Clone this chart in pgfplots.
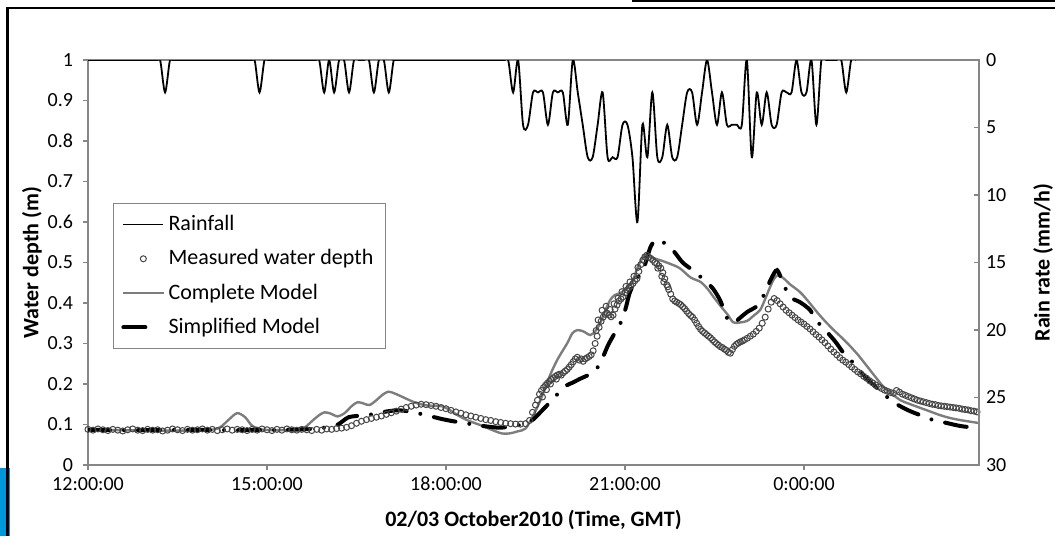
\documentclass[border=0pt]{standalone}
\usepackage{fontspec}
\setmainfont{Carlito}
\usepackage{pgfplots}
\pgfplotsset{compat=1.18}

\definecolor{axgray}{RGB}{134,134,134}
\definecolor{modelgray}{RGB}{125,125,125}
\definecolor{ptgray}{RGB}{70,70,70}
\definecolor{slideblue}{RGB}{0,150,218}

\pgfplotsset{
  longleg/.style={legend image code/.code={\draw[mark repeat=2,mark phase=2,##1] plot coordinates {(0pt,0pt) (10pt,0pt) (20pt,0pt)};}},
  shortleg/.style={legend image code/.code={\draw[##1] (0pt,0pt) -- (11pt,0pt);}},
  chartbox/.style={
    scale only axis, width=445.5pt, height=202.5pt,
    at={(44pt,136.75pt)}, anchor=west,
    xmin=0, xmax=896,
    axis line style={axgray, line width=0.6pt},
    tick style={axgray, line width=0.6pt},
    major tick length=2.5pt,
    ticklabel style={font=\fontsize{10}{12}\selectfont},
    /pgf/number format/assume math mode=true,
    label style={font=\bfseries\fontsize{11}{13}\selectfont},
  },
}

\begin{document}
\begin{tikzpicture}
\useasboundingbox (0pt,0pt) rectangle (527.5pt,268pt);
% slide frame around the chart
\fill[slideblue] (0pt,0pt) rectangle (5pt,34pt);
\draw[line width=1.4pt] (3.65pt,0pt) -- (3.65pt,264pt) -- (527.5pt,264pt);
\draw[line width=1.4pt] (316pt,267.5pt) -- (527.5pt,267.5pt);

\begin{axis}[chartbox,
    ymin=0, ymax=1,
    xtick={0,180,360,540,720},
    xticklabels={12:00:00,15:00:00,18:00:00,21:00:00,0:00:00},
    ytick={0,0.1,0.2,0.3,0.4,0.5,0.6,0.7,0.8,0.9,1},
    yticklabel style={xshift=-1.5pt},
    tick align=outside, xtick pos=bottom, ytick pos=left,
    xlabel={02/03 October2010 (Time, GMT)},
    ylabel={Water depth (m)},
    xlabel style={at={(axis description cs:0.5,-0.136)}, anchor=center},
    ylabel style={at={(axis description cs:-0.063,0.5)}, anchor=center},
    longleg,
    legend style={at={(axis description cs:0.028,0.647)}, anchor=north west,
      draw=axgray, font=\fontsize{11}{13}\selectfont, row sep=4pt,
      inner xsep=4pt, inner ysep=4pt, cells={anchor=west}},
]
\addlegendimage{black, line width=0.9pt}
\addlegendentry{Rainfall}

% measured water depth
\addplot[only marks, mark=o, mark size=1.5pt, mark options={draw=ptgray, line width=0.5pt}] coordinates {
(0,0.088)(5,0.086)(10,0.089)(15,0.087)(20,0.085)(25,0.088)(30,0.086)(35,0.084)(40,0.087)(45,0.089)
(50,0.086)(55,0.085)(60,0.088)(65,0.086)(70,0.087)(75,0.084)(80,0.086)(85,0.089)(90,0.087)(95,0.085)
(100,0.088)(105,0.086)(110,0.087)(115,0.089)(120,0.086)(125,0.088)(130,0.085)(135,0.087)(140,0.089)(145,0.086)
(150,0.088)(155,0.087)(160,0.085)(165,0.088)(170,0.086)(175,0.089)(180,0.087)(185,0.085)(190,0.088)(195,0.086)
(200,0.089)(205,0.087)(210,0.086)(215,0.088)(220,0.087)(225,0.085)(230,0.088)(235,0.086)(240,0.089)(245,0.088)
(250,0.090)(255,0.091)(260,0.093)(265,0.097)(270,0.103)(275,0.108)(280,0.112)(285,0.115)(290,0.118)(295,0.121)
(300,0.125)(305,0.129)(310,0.133)(315,0.138)(320,0.142)(325,0.145)(330,0.148)(335,0.150)(340,0.149)(345,0.147)
(350,0.145)(355,0.142)(360,0.139)(365,0.135)(370,0.131)(375,0.128)(380,0.124)(385,0.121)(390,0.118)(395,0.115)
(400,0.112)(405,0.110)(410,0.107)(415,0.105)(420,0.103)(425,0.102)(430,0.101)(435,0.101)(440,0.102)(444,0.110)
(447,0.130)(450,0.148)(452,0.160)(454,0.175)(456,0.184)(458,0.191)(460,0.197)(462,0.202)(464,0.207)(466,0.211)
(468,0.215)(470,0.219)(472,0.222)(474,0.224)(476,0.222)(478,0.228)(480,0.232)(482,0.236)(484,0.242)(486,0.248)
(488,0.255)(490,0.262)(492,0.266)(494,0.259)(496,0.262)(498,0.256)(500,0.262)(502,0.265)(504,0.268)(506,0.272)
(508,0.282)(510,0.300)(512,0.318)(514,0.340)(516,0.355)(518,0.365)(520,0.372)(522,0.375)(524,0.370)(526,0.366)
(528,0.370)(530,0.385)(532,0.395)(534,0.405)(536,0.410)(538,0.415)(540,0.425)(542,0.432)(544,0.438)(546,0.442)
(548,0.448)(550,0.455)(552,0.460)(554,0.478)(556,0.495)(558,0.506)(560,0.514)(562,0.518)(564,0.513)(566,0.510)
(568,0.506)(570,0.500)(572,0.497)(574,0.492)(576,0.486)(578,0.475)(580,0.460)(582,0.445)(584,0.433)(586,0.422)
(588,0.410)(590,0.405)(592,0.402)(594,0.399)(596,0.396)(598,0.391)(600,0.386)(602,0.380)(604,0.374)(606,0.369)
(608,0.365)(610,0.358)(612,0.350)(614,0.342)(616,0.335)(618,0.330)(620,0.326)(622,0.322)(624,0.318)(626,0.314)
(628,0.309)(630,0.304)(632,0.300)(634,0.296)(636,0.292)(638,0.290)(640,0.286)(642,0.283)(644,0.278)(646,0.276)
(648,0.285)(650,0.293)(652,0.298)(654,0.301)(656,0.304)(658,0.306)(660,0.309)(663,0.313)(666,0.318)(669,0.323)
(672,0.330)(675,0.338)(678,0.350)(681,0.365)(684,0.385)(687,0.402)(690,0.411)(693,0.406)(696,0.398)(699,0.390)
(702,0.382)(705,0.376)(708,0.370)(711,0.364)(714,0.358)(717,0.353)(720,0.348)(723,0.342)(726,0.336)(729,0.329)
(732,0.322)(735,0.316)(738,0.309)(741,0.302)(744,0.294)(747,0.286)(750,0.279)(753,0.272)(756,0.265)(759,0.259)
(762,0.254)(765,0.248)(768,0.242)(771,0.236)(774,0.230)(777,0.225)(780,0.219)(783,0.214)(786,0.208)(789,0.203)
(792,0.198)(795,0.193)(798,0.189)(801,0.185)(804,0.182)(807,0.179)(810,0.177)(813,0.184)(816,0.180)(819,0.175)
(822,0.172)(825,0.169)(828,0.166)(831,0.163)(834,0.160)(837,0.158)(840,0.156)(843,0.154)(846,0.152)(849,0.150)
(852,0.149)(855,0.147)(858,0.146)(861,0.145)(864,0.144)(867,0.143)(870,0.142)(873,0.141)(876,0.140)(879,0.138)
(882,0.137)(885,0.136)(888,0.134)(891,0.133)(894,0.131)
(511,0.332)(513,0.358)(517,0.382)(521,0.392)(525,0.384)(529,0.398)(533,0.412)(537,0.428)(541,0.441)(545,0.452)
(549,0.466)(553,0.488)(457,0.168)(461,0.186)(465,0.200)(471,0.212)(573,0.486)(577,0.466)(579,0.452)(583,0.440)
};
\addlegendentry{Measured water depth}

% complete model
\addplot[modelgray, line width=1.2pt, smooth, tension=0.5] coordinates {
(0,0.087)(30,0.086)(60,0.085)(90,0.085)(111,0.085)(127,0.088)(134,0.095)(142,0.113)(150,0.128)(158,0.118)
(165,0.097)(174,0.088)(187,0.086)(209,0.087)(218,0.093)(226,0.110)(233,0.124)(238,0.130)(244,0.127)(251,0.120)
(258,0.128)(265,0.145)(271,0.155)(277,0.152)(283,0.148)(290,0.160)(296,0.173)(302,0.181)(309,0.176)(318,0.166)
(327,0.156)(335,0.150)(341,0.147)(349,0.146)(356,0.145)(363,0.137)(371,0.124)(382,0.110)(394,0.099)(405,0.088)
(416,0.078)(424,0.078)(432,0.083)(440,0.090)(447,0.119)(455,0.160)(464,0.218)(472,0.260)(482,0.301)(487,0.325)
(492,0.333)(498,0.330)(505,0.321)(510,0.330)(515,0.350)(520,0.380)(525,0.407)(530,0.420)(535,0.424)(541,0.435)
(548,0.457)(553,0.490)(558,0.512)(562,0.518)(568,0.511)(575,0.506)(585,0.497)(595,0.486)(606,0.463)(616,0.452)
(623,0.435)(629,0.415)(636,0.393)(643,0.372)(649,0.352)(656,0.352)(663,0.356)(670,0.370)(676,0.383)(681,0.410)
(686,0.440)(690,0.460)(694,0.469)(700,0.460)(706,0.446)(716,0.427)(724,0.405)(734,0.375)(742,0.353)(750,0.333)
(759,0.312)(767,0.292)(775,0.270)(784,0.242)(792,0.217)(800,0.193)(809,0.175)(817,0.160)(827,0.150)(837,0.141)
(847,0.132)(857,0.123)(867,0.116)(877,0.111)(887,0.107)(895,0.104)
};
\addlegendentry{Complete Model}

% simplified model
\addplot[black, line width=2pt, line cap=round, dash pattern=on 11pt off 7pt on 0pt off 7pt,
  smooth, tension=0.5, shortleg] coordinates {
(0,0.087)(50,0.086)(100,0.087)(150,0.086)(200,0.087)(225,0.089)(240,0.093)(250,0.098)(256,0.108)(262,0.118)
(270,0.121)(280,0.123)(290,0.127)(300,0.132)(310,0.135)(318,0.134)(325,0.131)(335,0.126)(345,0.120)(355,0.114)
(365,0.109)(375,0.105)(385,0.101)(395,0.097)(405,0.094)(414,0.092)(422,0.094)(430,0.097)(437,0.100)(443,0.106)
(448,0.113)(456,0.133)(465,0.156)(474,0.180)(480,0.195)(487,0.203)(495,0.213)(503,0.222)(510,0.232)(517,0.262)
(523,0.296)(530,0.327)(537,0.358)(541,0.390)(545,0.427)(551,0.455)(558,0.481)(562,0.510)(566,0.540)(571,0.556)
(577,0.552)(583,0.542)(589,0.528)(598,0.500)(608,0.481)(618,0.460)(628,0.437)(636,0.405)(641,0.370)(646,0.352)
(651,0.354)(656,0.364)(663,0.378)(674,0.395)(681,0.427)(687,0.460)(693,0.481)(699,0.449)(706,0.415)(716,0.402)
(726,0.383)(732,0.358)(744,0.326)(752,0.303)(760,0.276)(770,0.251)(780,0.222)(789,0.200)(799,0.178)(810,0.155)
(824,0.136)(837,0.123)(850,0.111)(863,0.104)(878,0.096)(896,0.091)
};
\addlegendentry{Simplified Model}
\end{axis}

\begin{axis}[chartbox,
    ymin=0, ymax=30, y dir=reverse,
    axis y line*=right, hide x axis,
    ytick={0,5,10,15,20,25,30}, tick align=inside,
    ylabel={Rain rate (mm/h)},
    ylabel style={at={(axis description cs:1.072,0.5)}, anchor=center},
]
\addplot[black, line width=0.9pt, smooth, tension=0.5] coordinates {
(0,0)(67.5,0)(72.5,0)(77.5,2.4)(82.5,0)(87.5,0)
(162.5,0)(167.5,0)(172.5,2.4)(177.5,0)(182.5,0)
(227.5,0)(232.5,0)(237.5,2.4)(242.5,0)(247.5,2.4)(252.5,0)(257.5,0)(262.5,2.4)(267.5,0)(272.5,0)
(277.5,0)(282.5,0)(287.5,2.4)(292.5,0)(297.5,0)(302.5,2.4)(307.5,0)(312.5,0)
(412.5,0)(417.5,0)(422.5,0)(427.5,2.4)(432.5,0)(437.5,4.8)(442.5,4.8)(447.5,2.4)(452.5,2.4)(457.5,2.4)
(462.5,4.8)(467.5,2.4)(472.5,2.4)(477.5,2.4)(482.5,4.8)(487.5,0)(492.5,2.4)(497.5,4.8)(502.5,7.2)(507.5,7.2)
(512.5,4.8)(517.5,2.4)(522.5,7.2)(527.5,7.2)(532.5,7.2)(537.5,4.8)(542.5,4.8)(547.5,7.2)(552.5,12)(557.5,4.8)
(562.5,7.2)(567.5,2.4)(572.5,7.2)(577.5,7.2)(582.5,4.8)(587.5,7.2)(592.5,7.2)(597.5,4.8)(602.5,2.4)(607.5,2.4)
(612.5,4.8)(617.5,2.4)(622.5,0)(627.5,2.4)(632.5,4.8)(637.5,2.4)(642.5,4.8)(647.5,4.8)(652.5,4.8)(657.5,4.8)
(662.5,0)(667.5,7.2)(672.5,2.4)(677.5,4.8)(682.5,2.4)(687.5,4.8)(692.5,4.8)(697.5,2.4)(702.5,2.4)(707.5,2.4)
(712.5,0)(717.5,2.4)(722.5,2.4)(727.5,0)(732.5,4.8)(737.5,0)(742.5,0)(747.5,0)(752.5,0)(757.5,0)
(762.5,2.4)(767.5,0)(772.5,0)
};
\end{axis}
\end{tikzpicture}
\end{document}
